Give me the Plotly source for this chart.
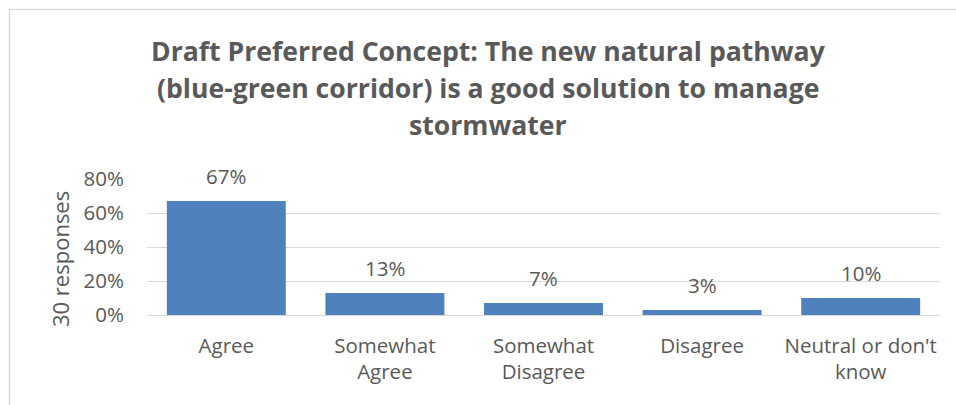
import plotly.graph_objects as go

# Survey results
categories = ["Agree", "Somewhat<br>Agree", "Somewhat<br>Disagree", "Disagree", "Neutral or don't<br>know"]
shares = [0.67, 0.13, 0.07, 0.03, 0.10]
y_ticks = [0, 0.2, 0.4, 0.6, 0.8]
y_tick_labels = ["0%", "20%", "40%", "60%", "80%"]
title_lines = [
    "Draft Preferred Concept: The new natural pathway",
    "(blue-green corridor) is a good solution to manage",
    "stormwater",
]
axis_title = "30 responses"

FONT = "Open Sans"
TEXT = "#595959"
GRID = "#D9D9D9"
BAR = "#4F81BD"

W, H = 956, 405
L, R, T, B = 147, 16, 179, 90
PW, PH = W - L - R, H - T - B


def px_x(p):
    return (p - L) / PW


def px_y(p):
    return (H - B - p) / PH


fig = go.Figure(
    go.Bar(
        x=categories,
        y=shares,
        marker=dict(color=BAR, line=dict(width=0)),
        width=0.75,
        hoverinfo="skip",
    )
)

annotations = []
# value labels above the bars
for c, v in zip(categories, shares):
    annotations.append(dict(
        x=c, y=v, xref="x", yref="y", text=f"{v:.0%}", showarrow=False,
        yanchor="middle", yshift=25, font=dict(family=FONT, size=20.5, color=TEXT),
    ))

# chart title, one annotation per line
for i, line in enumerate(title_lines):
    annotations.append(dict(
        x=px_x(488), y=px_y(51 + 37 * i), xref="paper", yref="paper",
        text=f"<b>{line}</b>", showarrow=False, xanchor="center", yanchor="middle",
        font=dict(family=FONT, size=26.6, color=TEXT),
    ))

# vertical axis title
annotations.append(dict(
    x=px_x(60), y=px_y(259), xref="paper", yref="paper", text=axis_title,
    showarrow=False, textangle=-90, xanchor="center", yanchor="middle",
    font=dict(family=FONT, size=22, color=TEXT),
))

# chart frame (top and left edges)
shapes = [
    dict(type="line", xref="paper", yref="paper", x0=px_x(9), x1=px_x(W), y0=px_y(9.5), y1=px_y(9.5),
         line=dict(color=GRID, width=1.5)),
    dict(type="line", xref="paper", yref="paper", x0=px_x(9.5), x1=px_x(9.5), y0=px_y(9), y1=px_y(H),
         line=dict(color=GRID, width=1.5)),
]

fig.update_layout(
    width=W, height=H,
    margin=dict(l=L, r=R, t=T, b=B),
    paper_bgcolor="white", plot_bgcolor="white",
    showlegend=False,
    bargap=0.25,
    annotations=annotations,
    shapes=shapes,
    font=dict(family=FONT, color=TEXT),
)
fig.update_yaxes(
    range=[0, 0.8], tickvals=y_ticks, ticktext=y_tick_labels,
    showgrid=True, gridcolor=GRID, gridwidth=1, zeroline=False, showline=False,
    ticks="", ticklabelstandoff=22, tickfont=dict(family=FONT, size=20.5, color=TEXT),
    fixedrange=True,
)
fig.update_xaxes(
    showgrid=False, zeroline=False, showline=True, linecolor=GRID, linewidth=1,
    ticks="", ticklabelstandoff=12, tickfont=dict(family=FONT, size=20.5, color=TEXT),
    fixedrange=True,
)

fig.write_html("out.html", config=dict(displayModeBar=False))
